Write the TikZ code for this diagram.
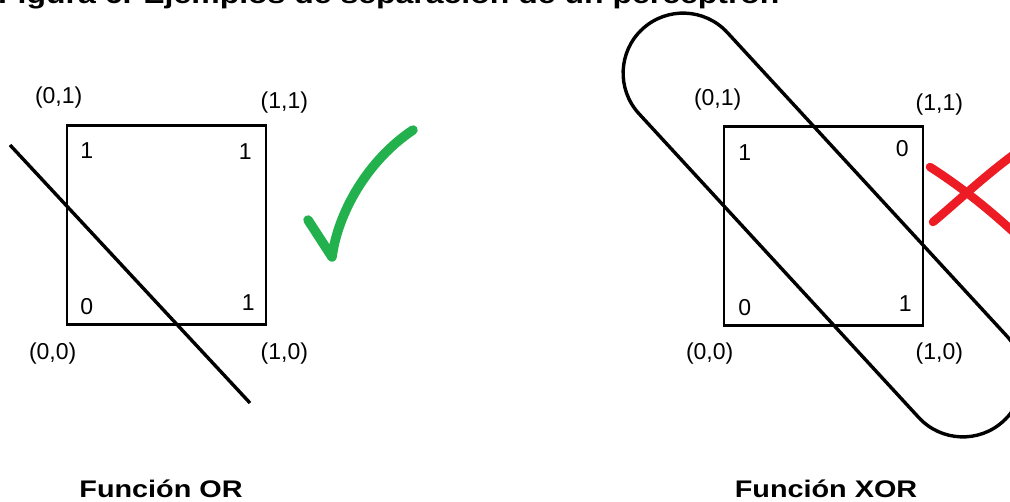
\documentclass[tikz,border=0pt]{standalone}
\usepackage{fontspec}
\setmainfont{Liberation Sans}
\usepackage{tikz}
\usetikzlibrary{shapes.misc}
\definecolor{okgreen}{HTML}{22B14C}
\definecolor{badred}{HTML}{ED1C24}

\begin{document}
\begin{tikzpicture}[
  x=1pt, y=-1pt,
  grid/.style={draw, line width=2.7pt, minimum size=199pt, inner sep=0pt},
  pt/.style={font=\fontsize{23}{26}\selectfont, inner sep=0pt},
  cut/.style={draw, line width=3.4pt},
  caption/.style={font=\bfseries\fontsize{24}{26}\selectfont, inner sep=0pt, anchor=base},
  okmark/.style={draw=okgreen, line width=9.5pt, line cap=round, line join=round},
  nomark/.style={draw=badred, line width=8.5pt, line cap=round}
]
\useasboundingbox (0,0) rectangle (1010,502);
\node[anchor=base west, inner sep=0pt, font=\bfseries\fontsize{26}{30}\selectfont] (title) at (-2,4)
  {\scalebox{1.23}[1]{Figura 6. Ejemplos de separación de un perceptrón}};

% funcion OR
\node[grid] (orbox) at (166.5,225) {};
\node[pt] (or01) at ([shift={(-7,-27)}]orbox.north west) {(0,1)};
\node[pt] (or11) at ([shift={(17,-22)}]orbox.north east) {(1,1)};
\node[pt] (or00) at ([shift={(-13,28)}]orbox.south west) {(0,0)};
\node[pt] (or10) at ([shift={(17,28)}]orbox.south east) {(1,0)};
\node[pt] (orv01) at ([shift={(21,26)}]orbox.north west) {1};
\node[pt] (orv11) at ([shift={(-22,27)}]orbox.north east) {1};
\node[pt] (orv00) at ([shift={(21,-19)}]orbox.south west) {0};
\node[pt] (orv10) at ([shift={(-19,-23)}]orbox.south east) {1};
\coordinate (cutA) at (10,145);
\coordinate (cutB) at (250,403);
\draw[cut] (cutA) -- (cutB);
\draw[okmark] (308,220) -- (332,257) .. controls (338,212) and (368,160) .. (413,130);
\node[caption] (orcap) at (161,497) {\scalebox{1.2}[1]{Función OR}};

% funcion XOR
\node[grid] (xorbox) at (823.5,226) {};
\node[pt] (xor01) at ([shift={(-5,-26)}]xorbox.north west) {(0,1)};
\node[pt] (xor11) at ([shift={(15,-21)}]xorbox.north east) {(1,1)};
\node[pt] (xor00) at ([shift={(-13,27)}]xorbox.south west) {(0,0)};
\node[pt] (xor10) at ([shift={(15,27)}]xorbox.south east) {(1,0)};
\node[pt] (xorv01) at ([shift={(22,27)}]xorbox.north west) {1};
\node[pt] (xorv11) at ([shift={(-22,23)}]xorbox.north east) {0};
\node[pt] (xorv00) at ([shift={(22,-19)}]xorbox.south west) {0};
\node[pt] (xorv10) at ([shift={(-19,-23)}]xorbox.south east) {1};
\node[draw, rounded rectangle, line width=3.4pt, minimum width=533pt, minimum height=120pt,
  inner sep=0pt, rotate=-47.36] (pill) at (823,225) {};
\draw[nomark] (930,167) .. controls (955,183) and (985,205) .. (1022,240);
\draw[nomark] (933,222) .. controls (955,204) and (985,175) .. (1020,150);
\node[caption] (xorcap) at (826,497) {\scalebox{1.2}[1]{Función XOR}};
\end{tikzpicture}
\end{document}
